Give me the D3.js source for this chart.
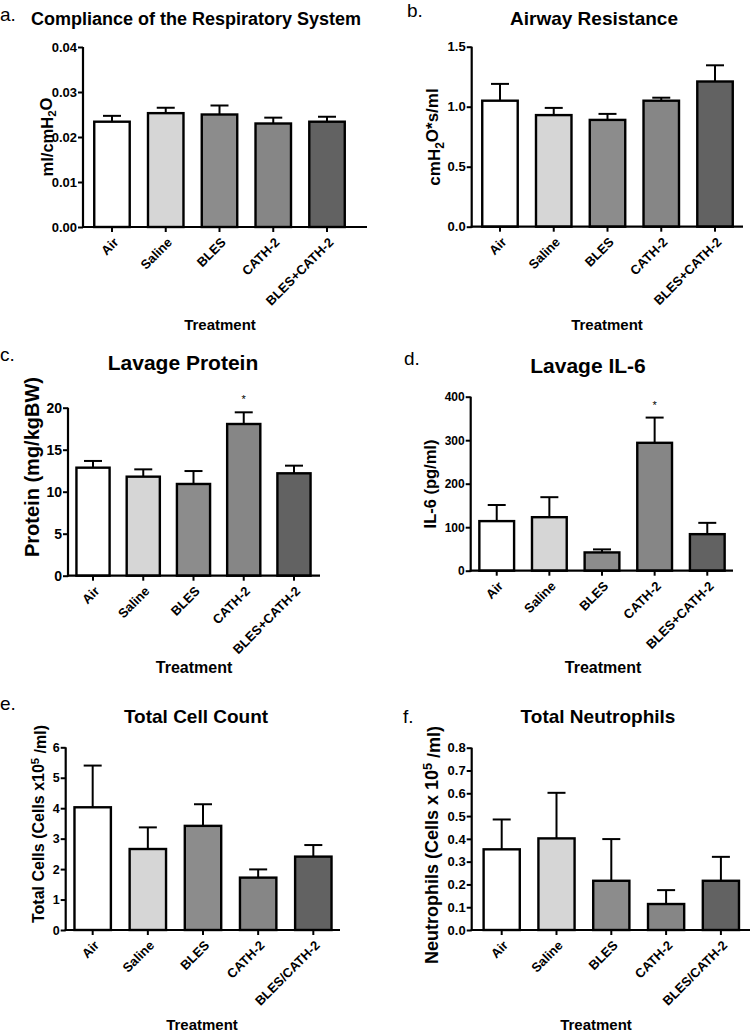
<!DOCTYPE html>
<html><head><meta charset="utf-8">
<script src="https://cdn.jsdelivr.net/npm/d3@7"></script>
<style>
body{margin:0;background:#fff;}
svg text{font-family:"Liberation Sans",Arial,sans-serif;fill:#000;}
</style></head>
<body><svg id="c" width="750" height="1032"></svg>
<script>
// ---- data ----
const categoriesPlus = ["Air","Saline","BLES","CATH-2","BLES+CATH-2"];
const categoriesSlash = ["Air","Saline","BLES","CATH-2","BLES/CATH-2"];
const groupColors = ["#ffffff","#d6d6d6","#8c8c8c","#868686","#626262"];

const complianceMean = [0.0234,0.0253,0.0250,0.0230,0.0234];
const complianceErr  = [0.0013,0.0012,0.0020,0.0013,0.0011];
const complianceTicks = [0,0.01,0.02,0.03,0.04];

const resistanceMean = [1.05,0.93,0.89,1.05,1.21];
const resistanceErr  = [0.14,0.06,0.05,0.025,0.135];
const resistanceTicks = [0,0.5,1.0,1.5];

const proteinMean = [12.86,11.79,10.92,18.06,12.19];
const proteinErr  = [0.80,0.87,1.54,1.39,0.91];
const proteinTicks = [0,5,10,15,20];
const proteinSig = ["","","","*",""];

const il6Mean = [114,123,42,294,84];
const il6Err  = [37,46,7,58,26];
const il6Ticks = [0,100,200,300,400];
const il6Sig = ["","","","*",""];

const cellMean = [4.03,2.66,3.42,1.72,2.41];
const cellErr  = [1.37,0.71,0.71,0.27,0.38];
const cellTicks = [0,1,2,3,4,5,6];

const neutMean = [0.354,0.402,0.216,0.114,0.216];
const neutErr  = [0.131,0.200,0.183,0.061,0.105];
const neutTicks = [0,0.1,0.2,0.3,0.4,0.5,0.6,0.7,0.8];

const svg = d3.select("#c");

function panel(o){
  const g = svg.append("g");
  const x = d3.scaleBand().domain(o.cats).range([o.bandStart, o.bandEnd]).paddingInner(0.34).paddingOuter(0.17);
  const y = d3.scaleLinear().domain([0, o.ticks[o.ticks.length-1]]).range([o.yBottom, o.yTop]);
  const data = o.cats.map((c,i)=>({c, m:o.mean[i], e:o.err[i], col:groupColors[i], s:o.sig?o.sig[i]:""}));

  // bars
  g.selectAll("rect.bar").data(data).enter().append("rect")
    .attr("x", d=>x(d.c)).attr("width", x.bandwidth())
    .attr("y", d=>y(d.m)).attr("height", d=>y(0)-y(d.m))
    .attr("fill", d=>d.col).attr("stroke","#000").attr("stroke-width",2.4);
  // error bars
  const cap = 9;
  g.selectAll("line.ev").data(data).enter().append("line")
    .attr("x1", d=>x(d.c)+x.bandwidth()/2).attr("x2", d=>x(d.c)+x.bandwidth()/2)
    .attr("y1", d=>y(d.m)).attr("y2", d=>y(d.m+d.e))
    .attr("stroke","#000").attr("stroke-width",2);
  g.selectAll("line.ec").data(data).enter().append("line")
    .attr("x1", d=>x(d.c)+x.bandwidth()/2-cap).attr("x2", d=>x(d.c)+x.bandwidth()/2+cap)
    .attr("y1", d=>y(d.m+d.e)).attr("y2", d=>y(d.m+d.e))
    .attr("stroke","#000").attr("stroke-width",2);
  // significance
  g.selectAll("text.sig").data(data.filter(d=>d.s)).enter().append("text")
    .attr("x", d=>x(d.c)+x.bandwidth()/2).attr("y", d=>y(d.m+d.e)-9)
    .attr("text-anchor","middle").attr("font-size",11).text(d=>d.s);

  // y axis
  const ya = g.append("g").attr("transform",`translate(${o.axisX},0)`)
    .call(d3.axisLeft(y).tickValues(o.ticks).tickFormat(o.fmt).tickSize(5).tickSizeOuter(0));
  ya.select(".domain").attr("stroke-width",2.2).attr("d",`M0,${o.yTop}V${o.yBottom+1}`);
  ya.selectAll(".tick line").attr("stroke-width",2);
  ya.selectAll(".tick text").attr("font-size",o.tickFs).attr("font-weight","bold").attr("x",-6)
    .style("font-family",'"Liberation Sans",Arial,sans-serif');

  // x axis
  const xa = g.append("g").attr("transform",`translate(0,${o.yBottom})`)
    .call(d3.axisBottom(x).tickSize(5).tickSizeOuter(0).tickFormat(""));
  xa.select(".domain").attr("stroke-width",2.2).attr("d",`M${o.axisX-1},0H${o.axisEnd}`);
  xa.selectAll(".tick line").attr("stroke-width",2);
  g.selectAll("text.cat").data(data).enter().append("text")
    .attr("transform", d=>`translate(${x(d.c)+x.bandwidth()/2+4},${o.yBottom+13}) rotate(-45)`)
    .attr("text-anchor","end").attr("dy","0.35em")
    .attr("font-size",o.catFs).attr("font-weight","bold").text(d=>d.c);

  // titles
  g.append("text").attr("x",o.letterX).attr("y",o.letterY).attr("font-size",19).text(o.letter);
  g.append("text").attr("x",o.titleX).attr("y",o.titleY).attr("text-anchor","middle")
    .attr("font-size",o.titleFs).attr("font-weight","bold").text(o.title);
  g.append("text").attr("x",o.trX).attr("y",o.trY).attr("text-anchor","middle")
    .attr("font-size",o.trFs).attr("font-weight","bold").text("Treatment");
  const yl = g.append("text").attr("transform",`translate(${o.ylX},${o.ylY}) rotate(-90)`)
    .attr("text-anchor","middle").attr("font-size",o.ylFs).attr("font-weight","bold");
  o.ylabel(yl);
}

function sub(t, pre, s, post){
  t.append("tspan").text(pre);
  t.append("tspan").attr("dy","0.3em").attr("font-size","70%").text(s);
  t.append("tspan").attr("dy","-0.3em").text(post);
}
function sup(t, pre, s, post){
  t.append("tspan").text(pre);
  t.append("tspan").attr("dy","-0.45em").attr("font-size","70%").text(s);
  t.append("tspan").attr("dy","0.45em").text(post);
}

panel({cats:categoriesPlus, mean:complianceMean, err:complianceErr, ticks:complianceTicks, fmt:d=>d.toFixed(2),
  bandStart:85.1, bandEnd:353.9, axisX:83, axisEnd:367, yTop:47, yBottom:227, tickFs:13, catFs:13,
  letter:"a.", letterX:0, letterY:21, title:"Compliance of the Respiratory System", titleX:196, titleY:25, titleFs:18,
  trX:220, trY:330, trFs:15, ylX:53, ylY:137, ylFs:16.5, ylabel:t=>sub(t,"ml/cmH","2","O")});

panel({cats:categoriesPlus, mean:resistanceMean, err:resistanceErr, ticks:resistanceTicks, fmt:d=>d.toFixed(1),
  bandStart:473.1, bandEnd:741.9, axisX:471.7, axisEnd:743, yTop:46.7, yBottom:226.7, tickFs:13, catFs:13,
  letter:"b.", letterX:407, letterY:17, title:"Airway Resistance", titleX:594, titleY:25, titleFs:19,
  trX:607, trY:330, trFs:15, ylX:440, ylY:137, ylFs:17, ylabel:t=>sub(t,"cmH","2","O*s/ml")});

panel({cats:categoriesPlus, mean:proteinMean, err:proteinErr, ticks:proteinTicks, fmt:d=>String(d), sig:proteinSig,
  bandStart:67.9, bandEnd:319.1, axisX:68, axisEnd:320, yTop:407.7, yBottom:575.7, tickFs:14, catFs:13,
  letter:"c.", letterX:0, letterY:361, title:"Lavage Protein", titleX:183, titleY:370, titleFs:21,
  trX:194, trY:673, trFs:16, ylX:39, ylY:467, ylFs:20, ylabel:t=>t.text("Protein (mg/kgBW)")});

panel({cats:categoriesPlus, mean:il6Mean, err:il6Err, ticks:il6Ticks, fmt:d=>String(d), sig:il6Sig,
  bandStart:470.4, bandEnd:733.6, axisX:470.7, axisEnd:733, yTop:396.7, yBottom:570.7, tickFs:12, catFs:13,
  letter:"d.", letterX:404, letterY:365, title:"Lavage IL-6", titleX:588, titleY:373, titleFs:21,
  trX:603, trY:673, trFs:16, ylX:436, ylY:484, ylFs:16.5, ylabel:t=>t.text("IL-6 (pg/ml)")});

panel({cats:categoriesSlash, mean:cellMean, err:cellErr, ticks:cellTicks, fmt:d=>String(d),
  bandStart:65.1, bandEnd:340.9, axisX:65.7, axisEnd:340, yTop:747.3, yBottom:930, tickFs:12.5, catFs:13,
  letter:"e.", letterX:0, letterY:710, title:"Total Cell Count", titleX:196, titleY:723, titleFs:19,
  trX:202, trY:1030, trFs:15, ylX:44, ylY:824, ylFs:16, ylabel:t=>sup(t,"Total Cells (Cells x10","5"," /ml)")});

panel({cats:categoriesSlash, mean:neutMean, err:neutErr, ticks:neutTicks, fmt:d=>d.toFixed(1),
  bandStart:474.3, bandEnd:748.3, axisX:471.7, axisEnd:750, yTop:747.7, yBottom:930, tickFs:13, catFs:13,
  letter:"f.", letterX:403, letterY:723, title:"Total Neutrophils", titleX:598, titleY:723, titleFs:19,
  trX:596, trY:1030, trFs:15, ylX:438, ylY:845, ylFs:18, ylabel:t=>sup(t,"Neutrophils (Cells x 10","5"," /ml)")});
</script></body></html>
